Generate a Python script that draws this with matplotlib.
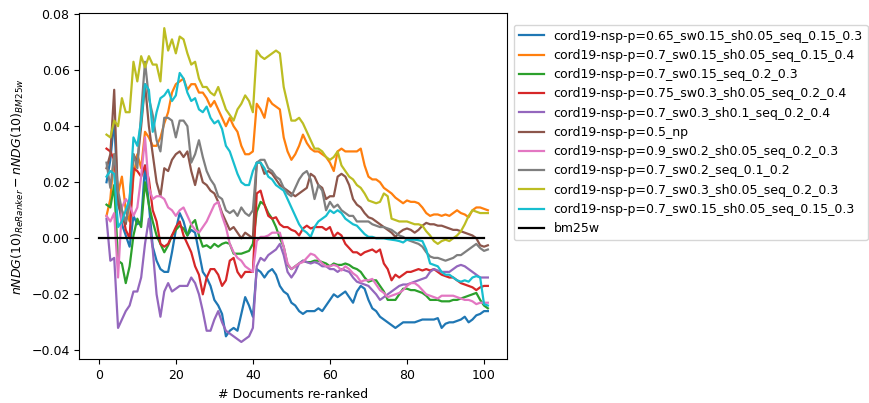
import numpy as np
import matplotlib
matplotlib.use("Agg")
import matplotlib.pyplot as plt

# x positions (# documents re-ranked)
x_runs = np.arange(2, 102)
x_base = np.arange(0, 101)

labels = [
    "cord19-nsp-p=0.65_sw0.15_sh0.05_seq_0.15_0.3",
    "cord19-nsp-p=0.7_sw0.15_sh0.05_seq_0.15_0.4",
    "cord19-nsp-p=0.7_sw0.15_seq_0.2_0.3",
    "cord19-nsp-p=0.75_sw0.3_sh0.05_seq_0.2_0.4",
    "cord19-nsp-p=0.7_sw0.3_sh0.1_seq_0.2_0.4",
    "cord19-nsp-p=0.5_np",
    "cord19-nsp-p=0.9_sw0.2_sh0.05_seq_0.2_0.3",
    "cord19-nsp-p=0.7_sw0.2_seq_0.1_0.2",
    "cord19-nsp-p=0.7_sw0.3_sh0.05_seq_0.2_0.3",
    "cord19-nsp-p=0.7_sw0.15_sh0.05_seq_0.15_0.3",
]

# values in units of 1e-3
blue = [20, 28, 42, 14, 5, 1, -3, 8, 5, 6,
        26, 12, -3, -8, -11, -12, -12, -5, 3, 9,
        6, 1, 3, 2, -5, -12, -14, -17, -22, -24,
        -27, -35, -33, -32, -33, -27, -21, -24, -28, -11,
        -12, -14, -12, -11, -13, -17, -19, -20, -23, -24,
        -26, -27, -26, -26, -26, -25, -26, -24, -22, -20,
        -21, -20, -19, -21, -23, -19, -17, -18, -22, -25,
        -26, -28, -29, -30, -31, -32, -31, -30, -30, -30,
        -30, -29.5, -29, -29, -29, -29, -28.5, -32, -30.5, -30,
        -30, -29.5, -29, -28, -30, -29, -27.5, -27, -26, -26]
orange = [8, 14, 30, 16, 22, 10, 6, 22, 30, 25,
          38, 36, 33, 33, 36, 41, 45, 52, 55, 56,
          57, 53, 55, 55, 52, 52, 50, 47, 49, 46,
          43, 40, 43, 40, 38, 33, 30, 30, 31, 48,
          46, 43, 50, 48, 47, 46, 36, 31, 28, 30,
          33, 37, 34, 32, 31, 31, 30, 29, 27, 24,
          31, 32, 31, 31, 31, 31, 32, 26, 22, 21,
          21, 20, 18, 17, 16, 14.5, 13.5, 12.5, 13.5, 13,
          13, 12.5, 11, 9, 8, 8.5, 8.5, 8, 8.5, 8,
          9, 10, 9, 8.5, 7.5, 10, 11, 11, 10.5, 10]
green = [12, 11, 19, -8, -9, -16, -10, 1, 7, 4,
         20, 12, 6, 1, -2, -5, -2.5, 1, 3, 4.5,
         3.5, 1, 5, 6.5, 1, -3, -2.5, -3.5, -2, -3,
         -2, -1.5, -2, -5.5, -5.5, -5.5, -5, -4.5, -2, 9.5,
         13, 12, 9, 7, 4, 0, -3, -9.5, -11, -10,
         -9, -8, -8.5, -8.5, -8, -8, -8.5, -9, -10, -9,
         -9.5, -9.5, -9, -9.5, -10.5, -11, -12, -14, -15.5, -15,
         -15, -17, -19, -22, -22, -22, -20, -18, -18, -18.5,
         -18.5, -19, -19.5, -20.5, -22, -22, -22, -22.5, -22.5, -22.5,
         -22, -22, -21.5, -21, -20.5, -20, -19.5, -22, -24, -25]
red = [32, 31, 28, 14, 10, 3, 0, 25, 24, 22,
       26, 21, 10, 6, -2, -3, -2, 1, 4, 6,
       1, -2, -5, -10, -13, -20, -14, -11, -11, -13,
       -17, -15, -8, -7, -12, -14, -12, -12, -12, 16,
       17, 12, 8, 7, 7.5, 5, 4, 4, 3, 2.5,
       1, 3.5, 4.5, 3.5, 4, 4, 4, 3, 4, 0.5,
       2, 1, -2, -3.5, -5, -5, -6, -5, -4.5, -4,
       -5, -4, -9, -11, -15, -13, -14, -13, -12, -12,
       -11.5, -11, -11.5, -11, -11.5, -11, -12, -13, -13.5, -14,
       -14, -15, -16, -16.5, -17, -17.5, -18.5, -17.5, -17, -17]
purple = [7, -8, -7, -32, -29, -26, -24, -19, -19, -14,
          -2, 7, -4, -20, -28, -19, -16, -19, -18, -17,
          -17, -17, -14, -16, -20, -26, -33, -33, -29, -26,
          -30, -33, -34, -35, -36, -37, -36, -35, -32, -10,
          -7, -8, -6, -5, -4, -2, -6, -12, -14, -12,
          -9, -8, -8.5, -9, -8.5, -9, -10, -10, -11, -11,
          -12, -11, -11.5, -12, -14, -15.5, -16, -16.5, -17, -18.5,
          -20, -22, -21, -20, -19, -18, -17, -16.5, -16.5, -16,
          -15.5, -15, -14.5, -14, -12, -11, -11.5, -12, -12, -12,
          -11, -10, -9.5, -10, -11, -12, -13, -14, -14, -14]
brown = [25, 30, 53, 12, 8, 5, 14, 30, 27, 40,
         55, 40, 30, 20, 15, 25, 24, 28, 30, 31,
         29, 31, 24, 19, 25, 20, 19, 17, 16, 13,
         9, 6, 3, 4, 2, 0, 2, 1, 0, 27,
         27, 23, 24, 23, 21, 19, 18, 17, 16, 15,
         16, 17, 18, 23, 22, 19, 18, 14, 15, 15,
         22, 23, 22, 19, 14, 12, 11, 9, 7.5, 7,
         6, 5, 4, 3, 2, 0.5, 2, 3, 3.5, 3,
         2, 3, 4.5, 5.5, 5, 5, 4.5, 4.5, 4, 3.5,
         3, 3, 2.5, 2, 1.5, 1, 0, -2.5, -3, -2.5]
pink = [8, 6, 9, -14, 11, 14, 12, 8, 11, 22,
        36, 18, 14, 15, 15, 14, 11, 10, 8, 10,
        11, 8, 5, 3, 2, 4, 6, 9, 12, 13,
        8, 4, -2, -5, -7, -8, -10, -11, -12, -1,
        0.5, 0.5, 1, 2, 2, 2, -3, -9, -11, -10,
        -9, -8.5, -7, -5.5, -6, -7.5, -9, -10, -10, -9.5,
        -10, -11.5, -10, -11, -12.5, -13.5, -15.5, -15, -15, -14.5,
        -16.5, -18.5, -19.5, -21, -20.5, -20, -19.5, -18.5, -17, -16,
        -16, -17, -18.5, -20, -20.5, -21, -21.5, -20.5, -20.5, -20.5,
        -20.5, -21, -21.5, -22, -22, -22.5, -23.5, -23, -23, -23]
gray = [27, 18, 30, 17, 10, 6, 12, 30, 25, 45,
        63, 50, 44, 35, 31, 43, 43, 42, 36, 42,
        42, 40, 27, 30, 35, 29, 24, 21, 19, 15,
        14, 10, 9, 10, 8, 11, 9, 8, 10, 27,
        28, 28, 25, 24, 22, 21, 18, 16, 15, 18,
        21, 23, 24, 21, 14, 19, 17, 10, 13, 11,
        12, 10, 9, 8, 8, 6, 6, 6, 6, 5,
        4.5, 4, 4, 3.5, 3, 2, 1, 0.5, -0.5, -1,
        -1.5, -2, -3, -5, -6.5, -7, -7, -7.5, -8, -7.5,
        -7, -6, -6, -5, -4, -3, -2, -3.5, -4.5, -4]
olive = [37, 36, 42, 40, 50, 45, 45, 63, 56, 65,
         61, 65, 62, 62, 56, 75, 67, 71, 66, 72,
         71, 66, 62, 63, 57, 54, 54, 52, 51, 54,
         50, 46, 44, 42, 46, 48, 51, 49, 45, 67,
         65, 64, 65, 66, 67, 66, 54, 48, 42, 42,
         43, 41, 38, 35, 32, 32, 31, 29, 28, 29,
         31, 26, 24, 22, 21, 19, 18, 16, 13.5, 13,
         12.5, 13, 16, 15, 7, 6.5, 6, 6, 6, 5.5,
         5, 5, 4.5, 2.5, 1, -1, -2, -1, -0.5, -1,
         0, 1, 2.5, 5, 8, 10, 9.5, 9, 9, 9]
cyan = [22, 24, 23, 4, 6, 10, 14, 36, 33, 42,
        55, 53, 38, 45, 50, 51, 53, 49, 51, 59,
        57, 52, 49, 50, 46, 45, 47, 43, 41, 42,
        39, 33, 31, 27, 23, 20, 19, 19, 24, 27,
        27, 25, 22, 21, 19, 18, 17, 14, 11, 8,
        5, 3, 2, 0.5, 4, 6, 7, 8, 10, 9,
        10, 9, 7, 6, 5, 4.5, 3, 1.5, 0.5, 0.5,
        0, 0, 0, -0.3, -0.5, -0.7, -1, -1.5, -0.5, -0.5,
        -0.5, -0.7, -1, -4, -9, -9.5, -10, -12, -13, -13,
        -14, -15, -15.5, -15, -15.5, -14, -13.5, -14, -23.5, -24]
bm25w = [0.0] * 101

series = [blue, orange, green, red, purple, brown, pink, gray, olive, cyan]
colors = ["tab:blue", "tab:orange", "tab:green", "tab:red", "tab:purple",
          "tab:brown", "tab:pink", "tab:gray", "tab:olive", "tab:cyan"]

plt.rcParams["font.family"] = "DejaVu Sans"
plt.rcParams["font.size"] = 9.0

fig = plt.figure(figsize=(8.69, 4.03), dpi=100)
ax = fig.add_axes([0.0913, 0.1084, 0.4925, 0.8586])

for vals, lab, col in zip(series, labels, colors):
    ax.plot(x_runs, np.array(vals) / 1000.0, color=col, lw=1.6, label=lab)
ax.plot(x_base, bm25w, color="black", lw=1.6, label="bm25w")

ax.set_xlim(-5.05, 106.05)
ax.set_ylim(-0.0432, 0.0803)
ax.set_xticks([0, 20, 40, 60, 80, 100])
ax.set_yticks([-0.04, -0.02, 0.0, 0.02, 0.04, 0.06, 0.08])
ax.set_xlabel("# Documents re-ranked")
ax.set_ylabel(r"$nNDG(10)_{ReRanker} - nNDG(10)_{BM25w}$")
ax.legend(loc="upper left", bbox_to_anchor=(1.0, 0.985))

fig.savefig("out.png", dpi=100)
